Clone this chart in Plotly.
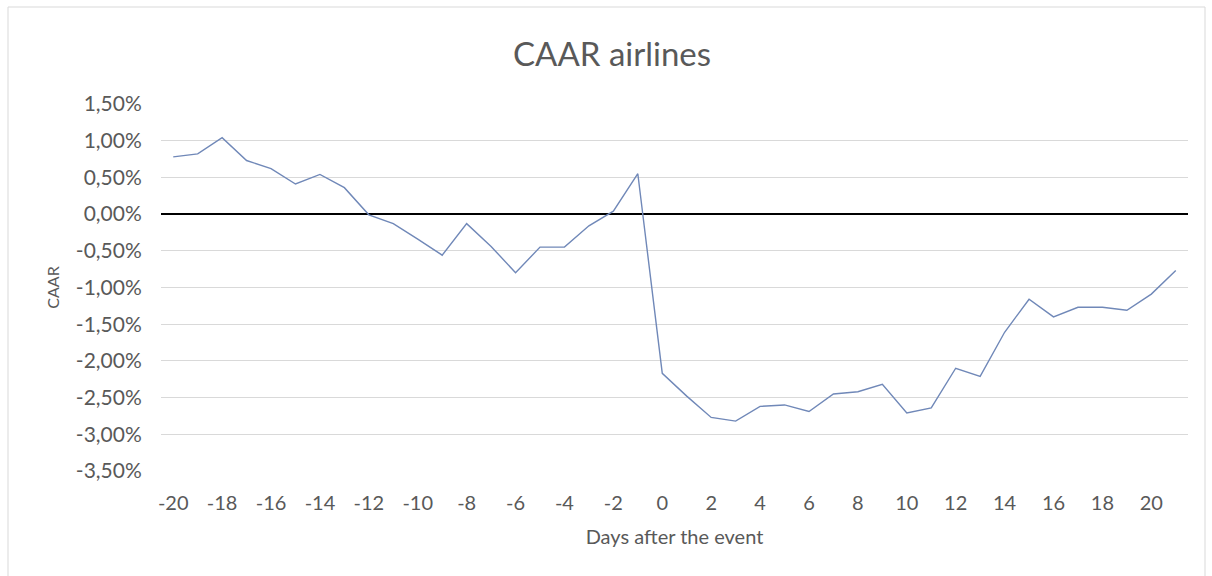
import plotly.graph_objects as go

days = [-20, -19, -18, -17, -16, -15, -14, -13, -12, -11, -10, -9, -8, -7, -6, -5, -4, -3, -2, -1,
        0, 1, 2, 3, 4, 5, 6, 7, 8, 9, 10, 11, 12, 13, 14, 15, 16, 17, 18, 19, 20, 21]
caar = [0.78, 0.82, 1.04, 0.73, 0.62, 0.41, 0.54, 0.36, -0.01, -0.13, -0.34, -0.56, -0.13, -0.44, -0.80, -0.45,
        -0.45, -0.16, 0.04, 0.55, -2.17, -2.48, -2.77, -2.82, -2.62, -2.60, -2.69, -2.45, -2.42, -2.32,
        -2.71, -2.64, -2.10, -2.21, -1.61, -1.16, -1.40, -1.27, -1.27, -1.31, -1.09, -0.77]
caar_frac = [v / 100 for v in caar]

x_tickvals = [-20, -18, -16, -14, -12, -10, -8, -6, -4, -2, 0, 2, 4, 6, 8, 10, 12, 14, 16, 18, 20]
x_ticktext = ["-20", "-18", "-16", "-14", "-12", "-10", "-8", "-6", "-4", "-2", "0", "2", "4", "6",
              "8", "10", "12", "14", "16", "18", "20"]
y_tickvals = [0.015, 0.01, 0.005, 0.0, -0.005, -0.01, -0.015, -0.02, -0.025, -0.03, -0.035]
y_ticktext = ["1,50%", "1,00%", "0,50%", "0,00%", "-0,50%", "-1,00%", "-1,50%", "-2,00%",
              "-2,50%", "-3,00%", "-3,50%"]

FONT = "Lato"
GRAY = "#595959"

fig = go.Figure()
fig.add_trace(go.Scatter(
    x=days, y=caar_frac, mode="lines",
    line=dict(color="#7088b8", width=1.4),
    showlegend=False, hoverinfo="skip",
))

fig.update_layout(
    width=1212, height=576,
    margin=dict(l=161, r=24, t=104, b=105),
    paper_bgcolor="white", plot_bgcolor="white",
    font=dict(family=FONT, color=GRAY),
    title=dict(text="CAAR airlines", x=0.505, xref="container", xanchor="center",
               y=1 - 54 / 576, yref="container", yanchor="middle",
               font=dict(family=FONT, size=33, color=GRAY)),
    xaxis=dict(
        range=[-20.5, 21.5], tickmode="array", tickvals=x_tickvals, ticktext=x_ticktext,
        showgrid=False, zeroline=False, showline=False,
        ticks="outside", ticklen=14, tickcolor="rgba(0,0,0,0)",
        tickfont=dict(family=FONT, size=20, color=GRAY),
        title=dict(text="Days after the event", standoff=16,
                   font=dict(family=FONT, size=20, color=GRAY)),
    ),
    yaxis=dict(
        range=[-0.035, 0.015], tickmode="array", tickvals=y_tickvals, ticktext=y_ticktext,
        showgrid=True, gridcolor="#d9d9d9", gridwidth=1,
        zeroline=True, zerolinecolor="#000000", zerolinewidth=2,
        showline=False,
        ticks="outside", ticklen=14, tickcolor="rgba(0,0,0,0)",
        tickfont=dict(family=FONT, size=21, color=GRAY),
        title=dict(text="CAAR", standoff=12,
                   font=dict(family=FONT, size=16, color=GRAY)),
    ),
    shapes=[dict(type="rect", xref="paper", yref="paper",
                 x0=(8 - 161) / 1027, x1=(1205 - 161) / 1027,
                 y0=(471 - 590) / 367, y1=(471 - 7) / 367,
                 line=dict(color="#d9d9d9", width=1), fillcolor="rgba(0,0,0,0)", layer="below")],
)

fig.write_html("out.html")
